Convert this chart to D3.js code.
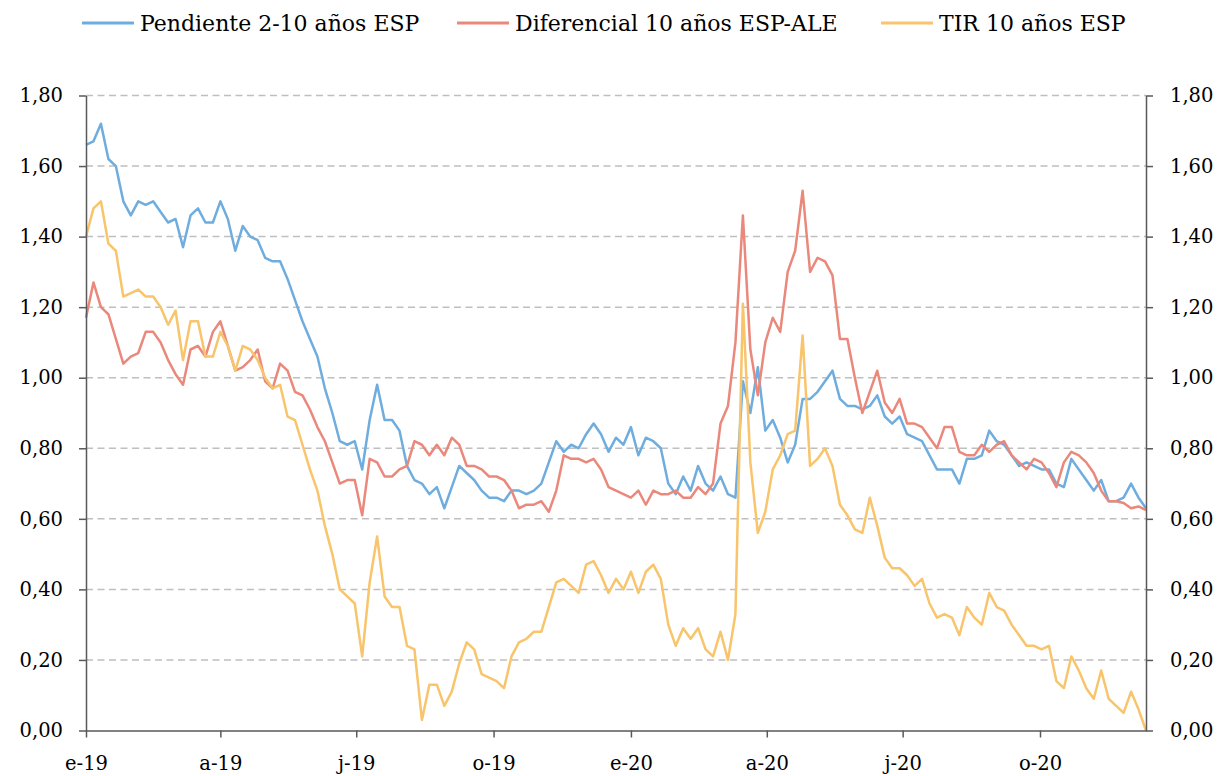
<!DOCTYPE html>
<html>
<head>
<meta charset="utf-8">
<script src="https://cdn.jsdelivr.net/npm/d3@7"></script>
<style>
  html, body { margin: 0; padding: 0; background: #fff; }
  svg text { font-family: "DejaVu Serif", "Liberation Serif", serif; fill: #000; }
</style>
</head>
<body>
<svg id="chart" width="1223" height="776"></svg>
<script>
// fechas: una muestra cada 5 días entre el inicio y el final del eje
const START = '2019-01-01';
const END = '2020-12-11';
const STEP_DAYS = 5;

const pendiente = [
  1.66, 1.67, 1.72, 1.62, 1.60, 1.50, 1.46, 1.50, 1.49, 1.50,
  1.47, 1.44, 1.45, 1.37, 1.46, 1.48, 1.44, 1.44, 1.50, 1.45,
  1.36, 1.43, 1.40, 1.39, 1.34, 1.33, 1.33, 1.28, 1.22, 1.16,
  1.11, 1.06, 0.97, 0.90, 0.82, 0.81, 0.82, 0.74, 0.88, 0.98,
  0.88, 0.88, 0.85, 0.75, 0.71, 0.70, 0.67, 0.69, 0.63, 0.69,
  0.75, 0.73, 0.71, 0.68, 0.66, 0.66, 0.65, 0.68, 0.68, 0.67,
  0.68, 0.70, 0.76, 0.82, 0.79, 0.81, 0.80, 0.84, 0.87, 0.84,
  0.79, 0.83, 0.81, 0.86, 0.78, 0.83, 0.82, 0.80, 0.70, 0.67,
  0.72, 0.68, 0.75, 0.70, 0.68, 0.72, 0.67, 0.66, 0.99, 0.90,
  1.03, 0.85, 0.88, 0.83, 0.76, 0.81, 0.94, 0.94, 0.96, 0.99,
  1.02, 0.94, 0.92, 0.92, 0.91, 0.92, 0.95, 0.89, 0.87, 0.89,
  0.84, 0.83, 0.82, 0.78, 0.74, 0.74, 0.74, 0.70, 0.77, 0.77,
  0.78, 0.85, 0.82, 0.81, 0.78, 0.75, 0.76, 0.75, 0.74, 0.74,
  0.70, 0.69, 0.77, 0.74, 0.71, 0.68, 0.71, 0.65, 0.65, 0.66,
  0.70, 0.66, 0.63
];

const diferencial = [
  1.17, 1.27, 1.20, 1.18, 1.11, 1.04, 1.06, 1.07, 1.13, 1.13,
  1.10, 1.05, 1.01, 0.98, 1.08, 1.09, 1.06, 1.13, 1.16, 1.09,
  1.02, 1.03, 1.05, 1.08, 0.99, 0.97, 1.04, 1.02, 0.96, 0.95,
  0.91, 0.86, 0.82, 0.76, 0.70, 0.71, 0.71, 0.61, 0.77, 0.76,
  0.72, 0.72, 0.74, 0.75, 0.82, 0.81, 0.78, 0.81, 0.78, 0.83,
  0.81, 0.75, 0.75, 0.74, 0.72, 0.72, 0.71, 0.68, 0.63, 0.64,
  0.64, 0.65, 0.62, 0.68, 0.78, 0.77, 0.77, 0.76, 0.77, 0.74,
  0.69, 0.68, 0.67, 0.66, 0.68, 0.64, 0.68, 0.67, 0.67, 0.68,
  0.66, 0.66, 0.69, 0.67, 0.70, 0.87, 0.92, 1.10, 1.46, 1.08,
  0.95, 1.10, 1.17, 1.13, 1.30, 1.36, 1.53, 1.30, 1.34, 1.33,
  1.29, 1.11, 1.11, 1.00, 0.90, 0.96, 1.02, 0.93, 0.90, 0.94,
  0.87, 0.87, 0.86, 0.83, 0.80, 0.86, 0.86, 0.79, 0.78, 0.78,
  0.81, 0.79, 0.81, 0.82, 0.78, 0.76, 0.74, 0.77, 0.76, 0.73,
  0.69, 0.76, 0.79, 0.78, 0.76, 0.73, 0.68, 0.65, 0.65, 0.645,
  0.63, 0.635, 0.625
];

const tir = [
  1.40, 1.48, 1.50, 1.38, 1.36, 1.23, 1.24, 1.25, 1.23, 1.23,
  1.20, 1.15, 1.19, 1.05, 1.16, 1.16, 1.06, 1.06, 1.13, 1.09,
  1.02, 1.09, 1.08, 1.05, 1.00, 0.97, 0.98, 0.89, 0.88, 0.81,
  0.74, 0.68, 0.58, 0.50, 0.40, 0.38, 0.36, 0.21, 0.42, 0.55,
  0.38, 0.35, 0.35, 0.24, 0.23, 0.03, 0.13, 0.13, 0.07, 0.11,
  0.19, 0.25, 0.23, 0.16, 0.15, 0.14, 0.12, 0.21, 0.25, 0.26,
  0.28, 0.28, 0.35, 0.42, 0.43, 0.41, 0.39, 0.47, 0.48, 0.44,
  0.39, 0.43, 0.40, 0.45, 0.39, 0.45, 0.47, 0.43, 0.30, 0.24,
  0.29, 0.26, 0.29, 0.23, 0.21, 0.28, 0.20, 0.33, 1.21, 0.76,
  0.56, 0.62, 0.74, 0.78, 0.84, 0.85, 1.12, 0.75, 0.77, 0.80,
  0.75, 0.64, 0.61, 0.57, 0.56, 0.66, 0.58, 0.49, 0.46, 0.46,
  0.44, 0.41, 0.43, 0.36, 0.32, 0.33, 0.32, 0.27, 0.35, 0.32,
  0.30, 0.39, 0.35, 0.34, 0.30, 0.27, 0.24, 0.24, 0.23, 0.24,
  0.14, 0.12, 0.21, 0.17, 0.12, 0.09, 0.17, 0.09, 0.07, 0.05,
  0.11, 0.06, 0.00
];

const SERIES_NAMES = ['Pendiente 2-10 años ESP', 'Diferencial 10 años ESP-ALE', 'TIR 10 años ESP'];
const SERIES_COLORS = ['#6faddf', '#ea887b', '#f8c46c'];
const Y_TICKS = [0, 0.2, 0.4, 0.6, 0.8, 1.0, 1.2, 1.4, 1.6, 1.8];
const MONTH_INITIALS = ['e', 'f', 'm', 'a', 'm', 'j', 'j', 'a', 's', 'o', 'n', 'd'];

const MARGIN = { top: 95.5, right: 77, bottom: 45.5, left: 86 };
const WIDTH = 1223;
const HEIGHT = 776;
const innerW = WIDTH - MARGIN.left - MARGIN.right;
const innerH = HEIGHT - MARGIN.top - MARGIN.bottom;

const parseDate = d3.timeParse('%Y-%m-%d');
const start = parseDate(START);
const end = parseDate(END);
const dates = pendiente.map((_, i) => d3.timeDay.offset(start, i * STEP_DAYS));

const fmtNum = (v) => v.toFixed(2).replace('.', ',');
const fmtDate = (d) => `${MONTH_INITIALS[d.getMonth()]}-${String(d.getFullYear()).slice(2)}`;

const svg = d3.select('#chart');
svg.append('rect').attr('width', WIDTH).attr('height', HEIGHT).attr('fill', '#fff');

const g = svg.append('g').attr('transform', `translate(${MARGIN.left},${MARGIN.top})`);

const x = d3.scaleTime().domain([start, end]).range([0, innerW]);
const y = d3.scaleLinear().domain([0, 1.8]).range([innerH, 0]);

// rejilla discontinua
g.append('g')
  .selectAll('line')
  .data(Y_TICKS.filter((t) => t > 0))
  .join('line')
  .attr('x1', 0)
  .attr('x2', innerW)
  .attr('y1', (d) => y(d))
  .attr('y2', (d) => y(d))
  .attr('stroke', '#bfbfbf')
  .attr('stroke-width', 1.5)
  .attr('stroke-dasharray', '7,4.5');

// series
const seriesData = [pendiente, diferencial, tir];
const line = d3.line()
  .x((d) => x(d.date))
  .y((d) => y(d.value));

seriesData.forEach((values, k) => {
  g.append('path')
    .datum(values.map((v, i) => ({ date: dates[i], value: v })))
    .attr('fill', 'none')
    .attr('stroke', SERIES_COLORS[k])
    .attr('stroke-width', 2.5)
    .attr('stroke-linejoin', 'round')
    .attr('d', line);
});

// ejes
const xTicks = d3.timeMonth.every(3).range(start, d3.timeDay.offset(end, 1));

const xAxisG = g.append('g')
  .attr('transform', `translate(0,${innerH})`)
  .call(d3.axisBottom(x).tickValues(xTicks).tickFormat(fmtDate).tickSizeInner(7).tickSizeOuter(0).tickPadding(19));

const yAxisL = g.append('g')
  .call(d3.axisLeft(y).tickValues(Y_TICKS).tickFormat(fmtNum).tickSizeInner(7).tickSizeOuter(0).tickPadding(16));

const yAxisR = g.append('g')
  .attr('transform', `translate(${innerW},0)`)
  .call(d3.axisRight(y).tickValues(Y_TICKS).tickFormat(fmtNum).tickSizeInner(7).tickSizeOuter(0).tickPadding(17));

[xAxisG, yAxisL, yAxisR].forEach((axis) => {
  axis.selectAll('path,line').attr('stroke', '#595959').attr('stroke-width', 1.5);
  axis.selectAll('text')
    .attr('fill', '#000')
    .style('font-size', '19.5px')
    .style('font-family', '"DejaVu Serif", serif');
});

// leyenda
const LEGEND_X = [82, 457, 881];
const legend = svg.append('g').attr('class', 'legend');
SERIES_NAMES.forEach((name, k) => {
  const item = legend.append('g').attr('transform', `translate(${LEGEND_X[k]},23)`);
  item.append('line')
    .attr('x1', 0).attr('x2', 52)
    .attr('y1', 0).attr('y2', 0)
    .attr('stroke', SERIES_COLORS[k])
    .attr('stroke-width', 3);
  item.append('text')
    .attr('x', 58)
    .attr('y', 0)
    .attr('dy', '0.35em')
    .style('font-size', '22px')
    .text(name);
});
</script>
</body>
</html>
